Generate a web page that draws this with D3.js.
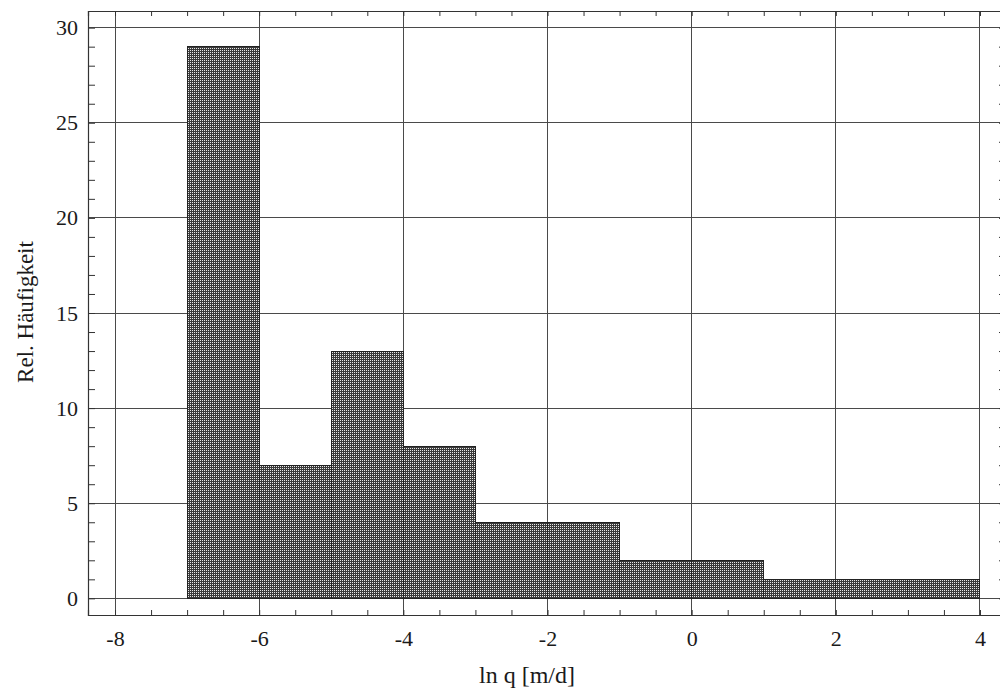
<!DOCTYPE html>
<html>
<head>
<meta charset="utf-8">
<script src="https://cdn.jsdelivr.net/npm/d3@7"></script>
<style>
  html, body { margin: 0; padding: 0; background: #fff; }
  svg { display: block; }
  text { font-family: "Liberation Serif", "DejaVu Serif", serif; fill: #1a1a1a; }
</style>
</head>
<body>
<svg id="chart" width="1000" height="698"></svg>
<script>
// ---- data ----
const binStart = [-7, -6, -5, -4, -3, -2, -1, 0, 1, 2, 3];
const binWidth = 1;
const frequency = [29, 7, 13, 8, 4, 4, 2, 2, 1, 1, 1];
const xTickValues = [-8, -6, -4, -2, 0, 2, 4];
const yTickValues = [0, 5, 10, 15, 20, 25, 30];
const xTitle = "ln q [m/d]";
const yTitle = "Rel. Häufigkeit";

(function () {
// ---- layout ----
const svg = d3.select("#chart");
const pLeft = 88, pRight = 1007, pTop = 11, pBottom = 615;
const x = d3.scaleLinear().domain([-8.375, 4.375]).range([pLeft, pRight]);
const y = d3.scaleLinear().domain([-0.875, 30.875]).range([pBottom, pTop]);

// pattern
const defs = svg.append("defs");
const pat = defs.append("pattern").attr("id", "hatch")
  .attr("patternUnits", "userSpaceOnUse").attr("width", 2).attr("height", 2);
pat.append("rect").attr("width", 2).attr("height", 2).attr("fill", "#3a3a3a");
pat.append("rect").attr("width", 1).attr("height", 1).attr("fill", "#e8e8e8");

// gridlines
const grid = svg.append("g").attr("stroke", "#4a4a4a").attr("stroke-width", 1).attr("shape-rendering", "crispEdges");
grid.selectAll("line.v").data(xTickValues).join("line").attr("class", "v")
  .attr("x1", d => x(d)).attr("x2", d => x(d)).attr("y1", pTop).attr("y2", pBottom);
grid.selectAll("line.h").data(yTickValues).join("line").attr("class", "h")
  .attr("y1", d => y(d)).attr("y2", d => y(d)).attr("x1", pLeft).attr("x2", pRight);

// bars
svg.append("g").selectAll("rect").data(binStart).join("rect")
  .attr("x", (d) => x(d))
  .attr("width", d => x(d + binWidth) - x(d))
  .attr("y", (d, i) => y(frequency[i]))
  .attr("height", (d, i) => y(0) - y(frequency[i]))
  .attr("fill", "url(#hatch)")
  .attr("stroke", "#222")
  .attr("stroke-width", 1)
  .attr("shape-rendering", "crispEdges");

// axes
const minorX = d3.range(-8, 4.01, 0.5);
const minorY = d3.range(0, 30.01, 1);

const axB = svg.append("g").attr("transform", `translate(0,${pBottom})`)
  .call(d3.axisBottom(x).tickValues(minorX).tickSize(-5).tickFormat(""));
const axT = svg.append("g").attr("transform", `translate(0,${pTop})`)
  .call(d3.axisTop(x).tickValues(minorX).tickSize(-5).tickFormat(""));
const axL = svg.append("g").attr("transform", `translate(${pLeft},0)`)
  .call(d3.axisLeft(y).tickValues(minorY).tickSize(-7).tickFormat(""));
const axR = svg.append("g").attr("transform", `translate(${pRight},0)`)
  .call(d3.axisRight(y).tickValues(minorY).tickSize(-8).tickFormat(""));
[axB, axT, axL, axR].forEach(a => {
  a.selectAll(".domain").attr("stroke", "#333").attr("stroke-width", 1.2);
  a.selectAll(".tick line").attr("stroke", "#333").attr("stroke-width", 1);
});

// labels
const labB = svg.append("g").attr("transform", `translate(0,${pBottom})`)
  .call(d3.axisBottom(x).tickValues(xTickValues).tickSize(0).tickPadding(15.5).tickFormat(d => d < 0 ? "-" + Math.abs(d) : String(d)));
const labL = svg.append("g").attr("transform", `translate(${pLeft},0)`)
  .call(d3.axisLeft(y).tickValues(yTickValues).tickSize(0).tickPadding(10).tickFormat(d3.format("d")));
[labB, labL].forEach(a => {
  a.select(".domain").remove();
  a.selectAll("text").attr("font-size", 22).attr("font-family", "Liberation Serif").attr("fill", "#1a1a1a");
});

// titles
svg.append("text").attr("x", 527).attr("y", 683).attr("text-anchor", "middle")
  .attr("font-size", 24).text(xTitle);
svg.append("text").attr("transform", "translate(33,312) rotate(-90)").attr("text-anchor", "middle")
  .attr("font-size", 23).text(yTitle);
})();
</script>
</body>
</html>
